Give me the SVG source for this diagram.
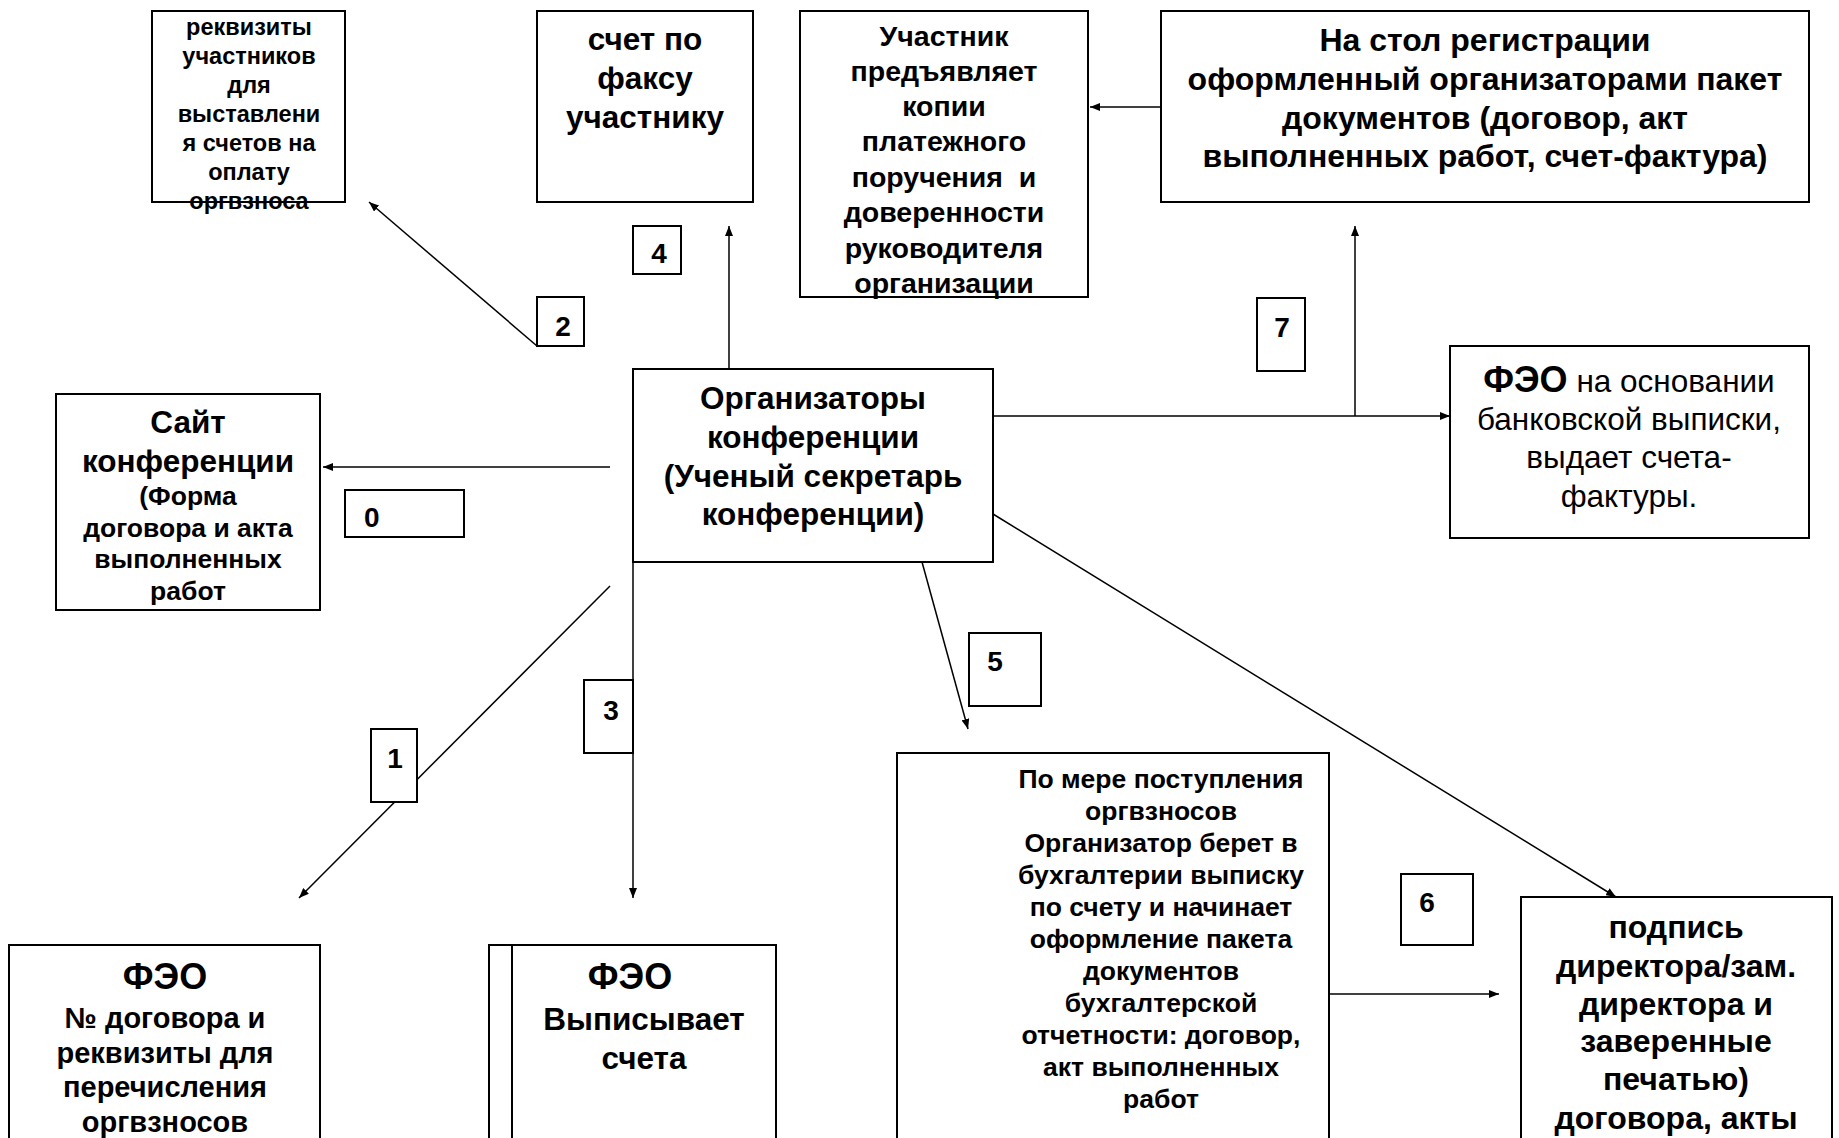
<svg xmlns="http://www.w3.org/2000/svg" width="1839" height="1138" viewBox="0 0 1839 1138">
<defs>
<marker id="ah" viewBox="0 0 10 8" refX="10" refY="4" markerWidth="10" markerHeight="8" markerUnits="userSpaceOnUse" orient="auto">
<path d="M0,0 L10,4 L0,8 z" fill="#000"/>
</marker>
<style>
.box{fill:#fff;stroke:#000;stroke-width:2}
.con{fill:none;stroke:#000;stroke-width:1.5}
text{font-family:"Liberation Sans",Arial,sans-serif;font-weight:bold;fill:#000;text-anchor:middle}
.n{font-weight:normal}
.lab{font-size:28px}
</style>
</defs>
<rect width="1839" height="1138" fill="#fff"/>

<g id="connectors">
<line class="con" x1="537" y1="346" x2="369" y2="202" marker-end="url(#ah)"/>
<line class="con" x1="729" y1="369" x2="729" y2="226" marker-end="url(#ah)"/>
<line class="con" x1="1161" y1="107" x2="1090" y2="107" marker-end="url(#ah)"/>
<line class="con" x1="1355" y1="416" x2="1355" y2="226" marker-end="url(#ah)"/>
<line class="con" x1="993" y1="416" x2="1450" y2="416" marker-end="url(#ah)"/>
<line class="con" x1="610" y1="467" x2="323" y2="467" marker-end="url(#ah)"/>
<line class="con" x1="610" y1="586" x2="299" y2="898" marker-end="url(#ah)"/>
<line class="con" x1="633" y1="562" x2="633" y2="898" marker-end="url(#ah)"/>
<line class="con" x1="922" y1="562" x2="968" y2="729" marker-end="url(#ah)"/>
<line class="con" x1="993" y1="514" x2="1616" y2="897" marker-end="url(#ah)"/>
<line class="con" x1="1329" y1="994" x2="1499" y2="994" marker-end="url(#ah)"/>
</g>

<g id="node-rekvizity">
<rect class="box" x="152" y="11" width="193" height="191"/>
<text font-size="23.5"><tspan x="249" y="35">реквизиты</tspan><tspan x="249" y="64">участников</tspan><tspan x="249" y="93">для</tspan><tspan x="249" y="122">выставлени</tspan><tspan x="249" y="151">я счетов на</tspan><tspan x="249" y="180">оплату</tspan><tspan x="249" y="209">оргвзноса</tspan></text>
</g>

<g id="node-schet-faks">
<rect class="box" x="537" y="11" width="216" height="191"/>
<text font-size="31.5"><tspan x="645" y="50">счет по</tspan><tspan x="645" y="89">факсу</tspan><tspan x="645" y="128">участнику</tspan></text>
</g>

<g id="node-uchastnik">
<rect class="box" x="800" y="11" width="288" height="286"/>
<text font-size="28.5"><tspan x="944" y="46">Участник</tspan><tspan x="944" y="81">предъявляет</tspan><tspan x="944" y="116">копии</tspan><tspan x="944" y="151">платежного</tspan><tspan x="944" y="187" xml:space="preserve">поручения  и</tspan><tspan x="944" y="222">доверенности</tspan><tspan x="944" y="258">руководителя</tspan><tspan x="944" y="293">организации</tspan></text>
</g>

<g id="node-stol">
<rect class="box" x="1161" y="11" width="648" height="191"/>
<text font-size="32"><tspan x="1485" y="51">На стол регистрации</tspan><tspan x="1485" y="90">оформленный организаторами пакет</tspan><tspan x="1485" y="129">документов (договор, акт</tspan><tspan x="1485" y="167">выполненных работ, счет-фактура)</tspan></text>
</g>

<g id="node-feo-vypiska">
<rect class="box" x="1450" y="346" width="359" height="192"/>
<text font-size="31.5"><tspan x="1629" y="392"><tspan font-size="36">ФЭО</tspan><tspan class="n"> на основании</tspan></tspan><tspan class="n" x="1629" y="430">банковской выписки,</tspan><tspan class="n" x="1629" y="468">выдает счета-</tspan><tspan class="n" x="1629" y="507">фактуры.</tspan></text>
</g>

<g id="node-organizatory">
<rect class="box" x="633" y="369" width="360" height="193"/>
<text font-size="31.5"><tspan x="813" y="409">Организаторы</tspan><tspan x="813" y="448">конференции</tspan><tspan x="813" y="487">(Ученый секретарь</tspan><tspan x="813" y="525">конференции)</tspan></text>
</g>

<g id="node-sait">
<rect class="box" x="56" y="394" width="264" height="216"/>
<text font-size="31.5"><tspan x="188" y="433">Сайт</tspan><tspan x="188" y="472">конференции</tspan></text>
<text font-size="26.5"><tspan x="188" y="505">(Форма</tspan><tspan x="188" y="537">договора и акта</tspan><tspan x="188" y="568">выполненных</tspan><tspan x="188" y="600">работ</tspan></text>
</g>

<g id="node-feo-dogovor">
<rect class="box" x="9" y="945" width="311" height="200"/>
<text font-size="36"><tspan x="165" y="989">ФЭО</tspan></text>
<text font-size="29"><tspan x="165" y="1028">№ договора и</tspan><tspan x="165" y="1063">реквизиты для</tspan><tspan x="165" y="1097">перечисления</tspan><tspan x="165" y="1132">оргвзносов</tspan></text>
</g>

<g id="node-feo-scheta">
<rect class="box" x="489" y="945" width="287" height="200"/>
<line x1="512" y1="945" x2="512" y2="1140" stroke="#000" stroke-width="2"/>
<text font-size="36"><tspan x="630" y="989">ФЭО</tspan></text>
<text font-size="31.5"><tspan x="644" y="1030">Выписывает</tspan><tspan x="644" y="1069">счета</tspan></text>
</g>

<g id="node-po-mere">
<rect class="box" x="897" y="753" width="432" height="390"/>
<text font-size="26.5"><tspan x="1161" y="788">По мере поступления</tspan><tspan x="1161" y="820">оргвзносов</tspan><tspan x="1161" y="852">Организатор берет в</tspan><tspan x="1161" y="884">бухгалтерии выписку</tspan><tspan x="1161" y="916">по счету и начинает</tspan><tspan x="1161" y="948">оформление пакета</tspan><tspan x="1161" y="980">документов</tspan><tspan x="1161" y="1012">бухгалтерской</tspan><tspan x="1161" y="1044">отчетности: договор,</tspan><tspan x="1161" y="1076">акт выполненных</tspan><tspan x="1161" y="1108">работ</tspan></text>
</g>

<g id="node-podpis">
<rect class="box" x="1521" y="897" width="311" height="250"/>
<text font-size="32"><tspan x="1676" y="938">подпись</tspan><tspan x="1676" y="977">директора/зам.</tspan><tspan x="1676" y="1015">директора и</tspan><tspan x="1676" y="1052">заверенные</tspan><tspan x="1676" y="1090">печатью)</tspan><tspan x="1676" y="1129">договора, акты</tspan></text>
</g>

<g id="labels">
<g id="label-0"><rect class="box" x="345" y="490" width="119" height="47"/><text class="lab" x="364" y="527" style="text-anchor:start">0</text></g>
<g id="label-1"><rect class="box" x="371" y="729" width="46" height="73"/><text class="lab" x="395" y="768">1</text></g>
<g id="label-2"><rect class="box" x="537" y="297" width="47" height="49"/><text class="lab" x="563" y="336">2</text></g>
<g id="label-3"><rect class="box" x="584" y="680" width="49" height="73"/><text class="lab" x="611" y="720">3</text></g>
<g id="label-4"><rect class="box" x="633" y="226" width="48" height="48"/><text class="lab" x="659" y="263">4</text></g>
<g id="label-5"><rect class="box" x="969" y="633" width="72" height="73"/><text class="lab" x="995" y="671">5</text></g>
<g id="label-6"><rect class="box" x="1401" y="874" width="72" height="71"/><text class="lab" x="1427" y="912">6</text></g>
<g id="label-7"><rect class="box" x="1257" y="298" width="48" height="73"/><text class="lab" x="1282" y="337">7</text></g>
</g>
</svg>
